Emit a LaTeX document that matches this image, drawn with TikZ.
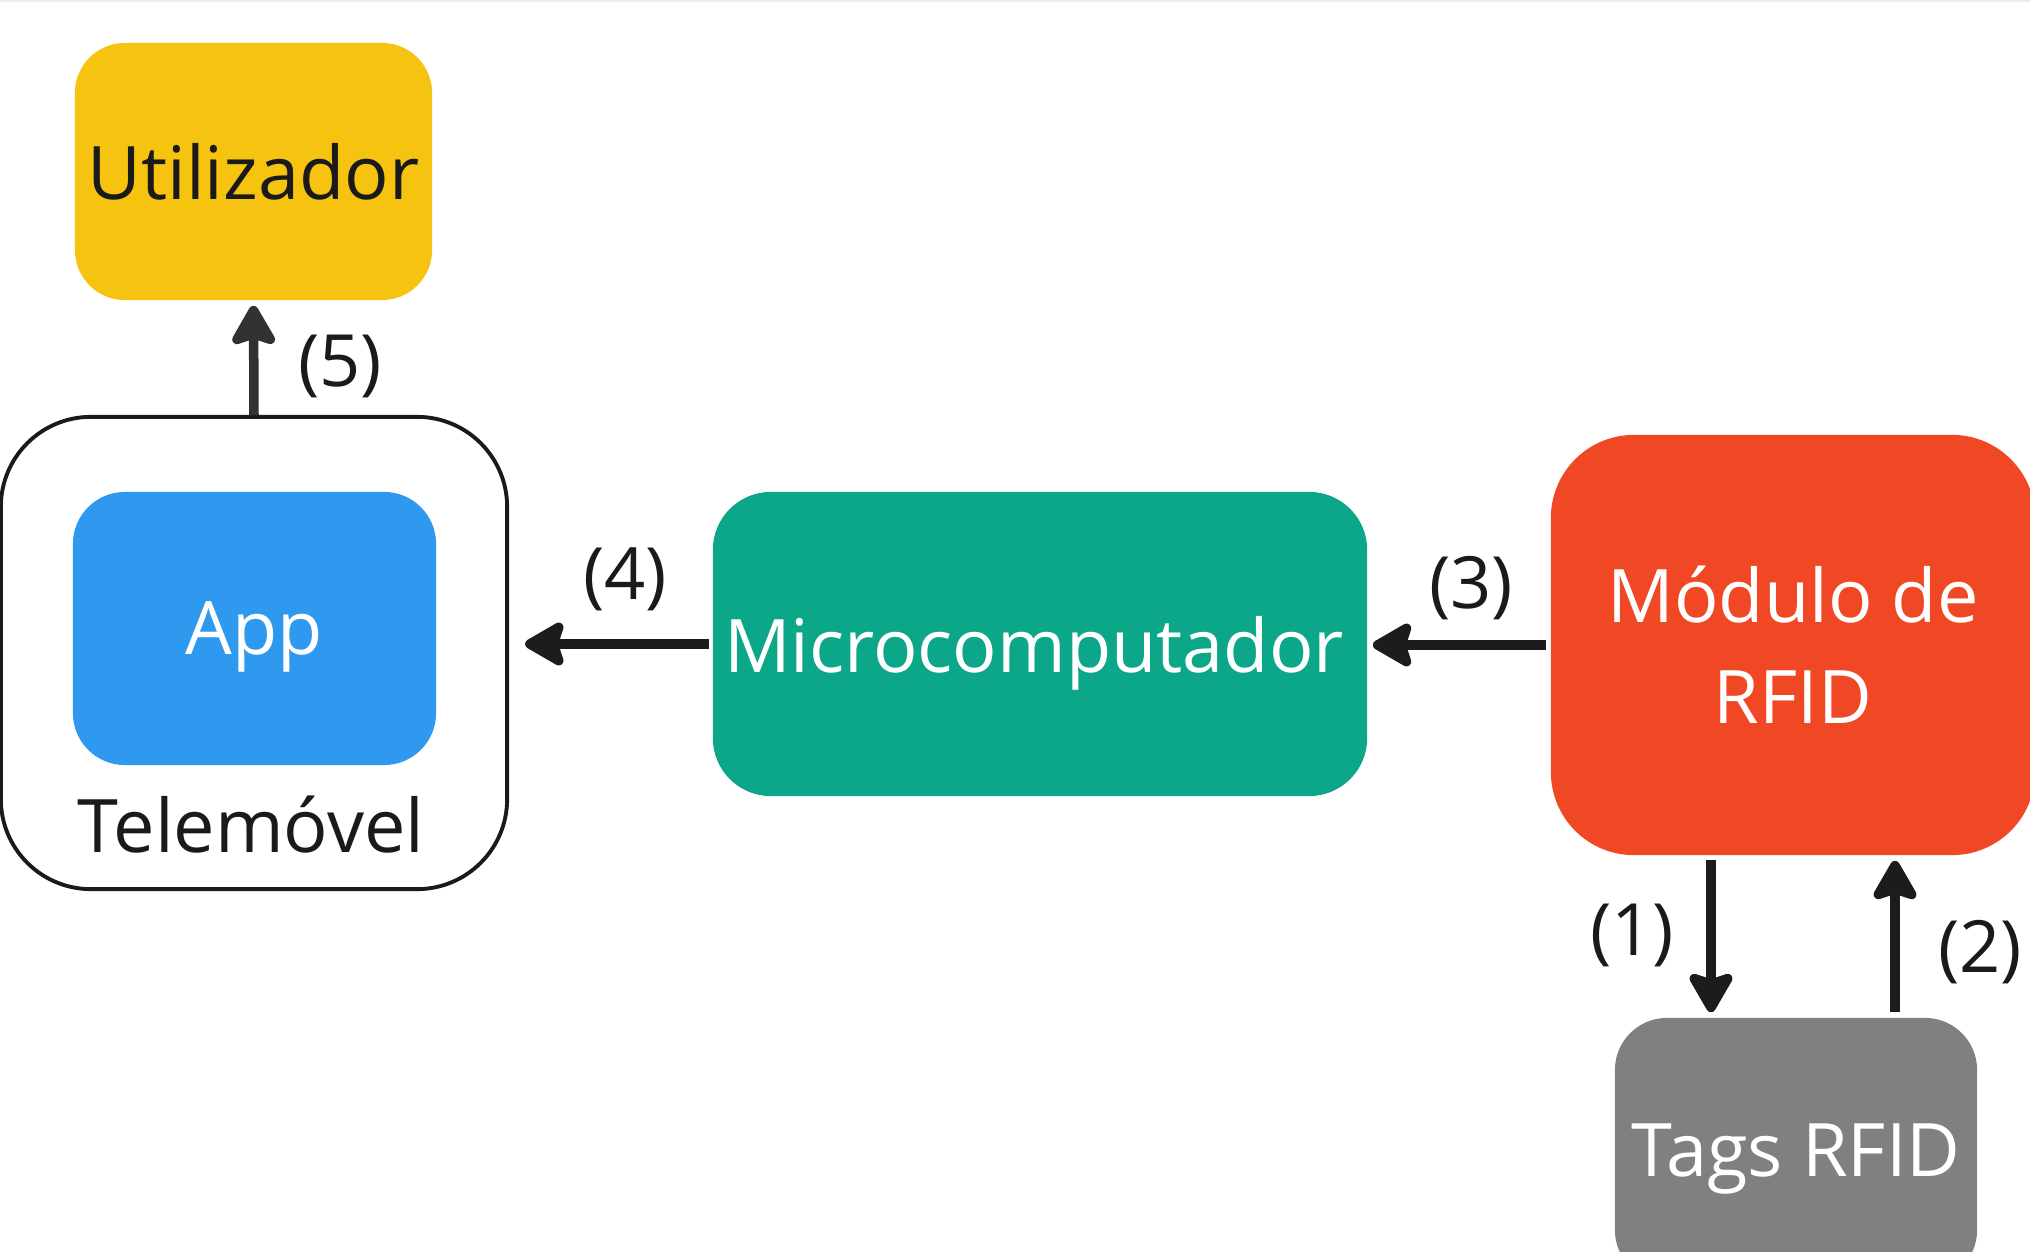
\documentclass[tikz,border=0pt]{standalone}
\usepackage{fontspec}
\setmainfont{Open Sans}
\usetikzlibrary{arrows.meta}

\definecolor{userfill}{RGB}{246,196,16}
\definecolor{appfill}{RGB}{46,153,238}
\definecolor{microfill}{RGB}{12,166,136}
\definecolor{rfidfill}{RGB}{240,72,36}
\definecolor{tagfill}{RGB}{128,128,128}
\definecolor{inkdark}{RGB}{26,26,26}
\definecolor{arrowink}{RGB}{28,28,28}
\definecolor{arrowsoft}{RGB}{50,50,50}
\definecolor{topline}{RGB}{236,236,236}

\begin{document}
\begin{tikzpicture}[x=0.01cm,y=-0.01cm,
  block/.style={rectangle, inner sep=0pt, align=center,
    font=\fontsize{21}{28.7}\selectfont},
  flow/.style={line width=0.095cm, draw=arrowink,
    -{Stealth[length=0.46cm, width=0.52cm, inset=0.08cm, round]}},
  steplabel/.style={inner sep=0pt, text=inkdark, text depth=0pt,
    font=\fontsize{20.5}{24}\selectfont}
]
% canvas
\path[use as bounding box] (0,0) rectangle (2030,1252);
\clip (0,0) rectangle (2030,1252);
\fill[white] (0,0) rectangle (2030,1252);
\fill[topline] (0,0) rectangle (2030,2);

% user
\node[block, fill=userfill, text=inkdark, rounded corners=0.5cm,
  minimum width=3.57cm, minimum height=2.57cm, text depth=0pt]
  (user) at (253.5,171.5) {Utilizador};

% phone with the app inside
\node[rectangle, draw=inkdark, line width=1.1pt, fill=white,
  rounded corners=0.9cm, minimum width=5.06cm, minimum height=4.72cm]
  (phone) at (254,653) {};
\node[block, fill=appfill, text=white, rounded corners=0.52cm,
  minimum width=3.63cm, minimum height=2.73cm, text depth=0pt]
  (app) at (254.5,628.5) {App};
\node[block, text=inkdark, text depth=0pt] (phonelabel) at (251,824) {Telemóvel};

% microcomputer
\node[block, fill=microfill, text=white, rounded corners=0.58cm,
  minimum width=6.54cm, minimum height=3.04cm, text depth=0pt]
  (micro) at (1040,644) {\hspace*{-0.12cm}Microcomputador};

% RFID reader module
\node[block, fill=rfidfill, text=white, rounded corners=0.83cm,
  minimum width=4.84cm, minimum height=4.20cm]
  (rfid) at (1793,645) {Módulo de\\RFID};

% RFID tags
\node[block, fill=tagfill, text=white, rounded corners=0.52cm,
  minimum width=3.62cm, minimum height=2.64cm, text depth=0pt]
  (tags) at (1796,1150) {Tags RFID};

% lanes of the two vertical links
\coordinate (lanedown) at (1711,0);
\coordinate (laneup) at (1895,0);

% connectors
\draw[flow, shorten <=0.04cm, shorten >=0.05cm] (rfid.south -| lanedown) -- (tags.north -| lanedown);
\draw[flow, shorten <=0.05cm, shorten >=0.05cm] (tags.north -| laneup) -- (rfid.south -| laneup);
\draw[flow, shorten <=0.04cm, shorten >=0.05cm] (rfid.west) -- (rfid.west -| micro.east);
\draw[flow, shorten <=0.03cm, shorten >=0.16cm] (micro.west) -- (micro.west -| phone.east);
\draw[flow, draw=arrowsoft] (phone.north) -- ([yshift=-0.05cm]user.south);

% step labels
\node[steplabel] (s1) at (1632,930) {(1)};
\node[steplabel] (s2) at (1980,946) {(2)};
\node[steplabel] (s3) at (1471,582) {(3)};
\node[steplabel] (s4) at (625,574) {(4)};
\node[steplabel] (s5) at (340,361) {(5)};
\end{tikzpicture}
\end{document}
